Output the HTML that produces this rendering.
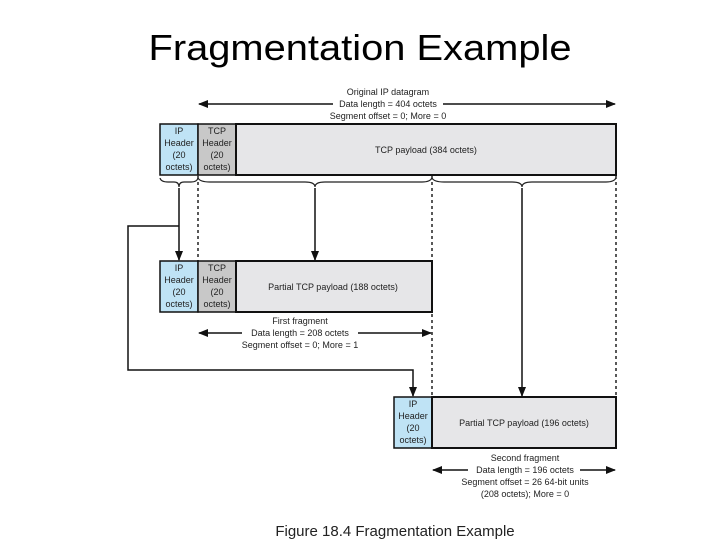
<!DOCTYPE html>
<html><head><meta charset="utf-8"><style>
html,body{margin:0;padding:0;background:#fff;}
svg{display:block;}
text{font-family:"Liberation Sans",sans-serif;fill:#222;}
</style></head><body>
<svg width="720" height="540" viewBox="0 0 720 540" xmlns="http://www.w3.org/2000/svg">
<defs>
<marker id="a" markerWidth="10" markerHeight="8" refX="9" refY="4" orient="auto" markerUnits="userSpaceOnUse">
<path d="M0,0 L10,4 L0,8 Z" fill="#111"/></marker>
</defs>
<text x="360" y="60" font-size="36" text-anchor="middle" textLength="423" lengthAdjust="spacingAndGlyphs" style="fill:#000">Fragmentation Example</text>

<g font-size="9" text-anchor="middle">
<text x="388" y="95">Original IP datagram</text>
<text x="388" y="107">Data length = 404 octets</text>
<text x="388" y="119">Segment offset = 0; More = 0</text>
</g>
<g stroke="#111" stroke-width="1.5" fill="none">
<line x1="333" y1="104" x2="199" y2="104" marker-end="url(#a)"/>
<line x1="443" y1="104" x2="615" y2="104" marker-end="url(#a)"/>
</g>

<!-- top datagram -->
<rect x="160" y="124" width="38" height="51" fill="#bfe3f5" stroke="#111" stroke-width="1.5"/>
<rect x="198" y="124" width="38" height="51" fill="#c8c8c8" stroke="#111" stroke-width="1.5"/>
<rect x="236" y="124" width="380" height="51" fill="#e6e6e8" stroke="#111" stroke-width="2"/>
<g font-size="9" text-anchor="middle">
<text x="179" y="134">IP</text><text x="179" y="146">Header</text><text x="179" y="158">(20</text><text x="179" y="170">octets)</text>
<text x="217" y="134">TCP</text><text x="217" y="146">Header</text><text x="217" y="158">(20</text><text x="217" y="170">octets)</text>
<text x="426" y="153">TCP payload (384 octets)</text>
</g>

<!-- braces -->
<g stroke="#222" stroke-width="1.2" fill="none">
<path d="M160,178 Q161,182 168,182 L174,182 Q179,182 179,187 Q179,182 184,182 L191,182 Q197,182 198,178"/>
<path d="M198,178 Q200,182 210,182 L305,182 Q315,182 315,187 Q315,182 325,182 L422,182 Q430,182 432,178"/>
<path d="M432,178 Q434,182 444,182 L512,182 Q522,182 522,187 Q522,182 532,182 L606,182 Q614,182 616,178"/>
</g>

<!-- dashed lines -->
<g stroke="#222" stroke-width="1.5" stroke-dasharray="3,3">
<line x1="198" y1="176" x2="198" y2="261"/>
<line x1="432" y1="176" x2="432" y2="397"/>
<line x1="616" y1="176" x2="616" y2="397"/>
</g>

<!-- arrows -->
<g stroke="#111" stroke-width="1.5" fill="none">
<line x1="179" y1="188" x2="179" y2="260" marker-end="url(#a)"/>
<line x1="315" y1="188" x2="315" y2="260" marker-end="url(#a)"/>
<line x1="522" y1="188" x2="522" y2="396" marker-end="url(#a)"/>
<polyline points="179,226 128,226 128,370 413,370 413,396" marker-end="url(#a)"/>
</g>

<!-- fragment 1 -->
<rect x="160" y="261" width="38" height="51" fill="#bfe3f5" stroke="#111" stroke-width="1.5"/>
<rect x="198" y="261" width="38" height="51" fill="#c8c8c8" stroke="#111" stroke-width="1.5"/>
<rect x="236" y="261" width="196" height="51" fill="#e6e6e8" stroke="#111" stroke-width="2"/>
<g font-size="9" text-anchor="middle">
<text x="179" y="271">IP</text><text x="179" y="283">Header</text><text x="179" y="295">(20</text><text x="179" y="307">octets)</text>
<text x="217" y="271">TCP</text><text x="217" y="283">Header</text><text x="217" y="295">(20</text><text x="217" y="307">octets)</text>
<text x="333" y="290">Partial TCP payload (188 octets)</text>
<text x="300" y="324">First fragment</text>
<text x="300" y="336">Data length = 208 octets</text>
<text x="300" y="348">Segment offset = 0; More = 1</text>
</g>
<g stroke="#111" stroke-width="1.5" fill="none">
<line x1="242" y1="333" x2="199" y2="333" marker-end="url(#a)"/>
<line x1="358" y1="333" x2="431" y2="333" marker-end="url(#a)"/>
</g>

<!-- fragment 2 -->
<rect x="394" y="397" width="38" height="51" fill="#bfe3f5" stroke="#111" stroke-width="1.5"/>
<rect x="432" y="397" width="184" height="51" fill="#e6e6e8" stroke="#111" stroke-width="2"/>
<g font-size="9" text-anchor="middle">
<text x="413" y="407">IP</text><text x="413" y="419">Header</text><text x="413" y="431">(20</text><text x="413" y="443">octets)</text>
<text x="524" y="426">Partial TCP payload (196 octets)</text>
<text x="525" y="461">Second fragment</text>
<text x="525" y="473">Data length = 196 octets</text>
<text x="525" y="485">Segment offset = 26 64-bit units</text>
<text x="525" y="497">(208 octets); More = 0</text>
</g>
<g stroke="#111" stroke-width="1.5" fill="none">
<line x1="468" y1="470" x2="433" y2="470" marker-end="url(#a)"/>
<line x1="580" y1="470" x2="615" y2="470" marker-end="url(#a)"/>
</g>

<text x="395" y="536" font-size="15" text-anchor="middle">Figure 18.4  Fragmentation Example</text>
</svg>
</body></html>
